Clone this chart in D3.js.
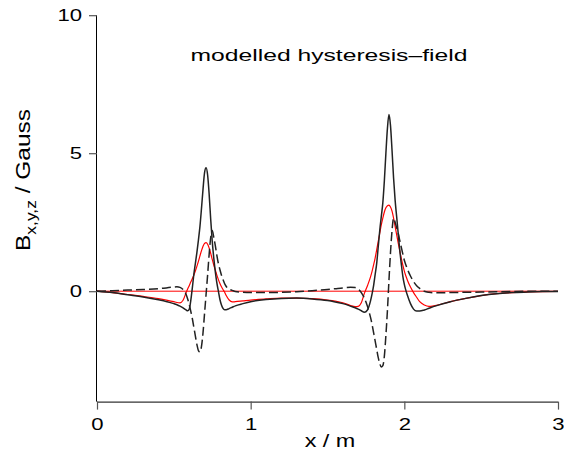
<!DOCTYPE html>
<html>
<head>
<meta charset="utf-8">
<script src="https://cdn.jsdelivr.net/npm/d3@7"></script>
<style>
  html, body { margin: 0; padding: 0; background: #fff; }
  svg { display: block; font-family: "Liberation Sans", Arial, Helvetica, sans-serif; }
</style>
</head>
<body>
<svg id="chart" width="564" height="453"></svg>
<script>
// Position along the track (m)
const xPos = [
  0, 0.1, 0.2, 0.3, 0.4, 0.45, 0.5,
  0.52, 0.54, 0.56, 0.58, 0.59, 0.60, 0.61, 0.62, 0.63, 0.64, 0.65, 0.66, 0.67, 0.68, 0.69,
  0.70, 0.71, 0.72, 0.73, 0.74, 0.75, 0.76, 0.77, 0.78, 0.79, 0.80, 0.81, 0.82, 0.83, 0.84,
  0.86, 0.88, 0.90, 0.95,
  1.0, 1.1, 1.2, 1.3, 1.4, 1.5, 1.55, 1.6, 1.65,
  1.68, 1.70, 1.72, 1.74, 1.76, 1.78, 1.79, 1.80, 1.81, 1.82, 1.83, 1.84, 1.85, 1.86, 1.87,
  1.88, 1.89, 1.90, 1.91, 1.92, 1.93, 1.94, 1.95, 1.96, 1.97, 1.98, 1.99, 2.00, 2.01, 2.02,
  2.04, 2.06, 2.08, 2.10, 2.13, 2.16, 2.2,
  2.3, 2.4, 2.5, 2.6, 2.7, 2.8, 2.9, 3.0
];

// Bx (Gauss) – black solid
const bX = [
  0, -0.05, -0.13, -0.21, -0.31, -0.37, -0.45,
  -0.49, -0.54, -0.6, -0.68, -0.71, -0.66, -0.35, 0.1, 0.6, 1.0, 1.4, 1.85, 2.35, 3.0, 3.7,
  4.3, 4.47, 4.2, 3.5, 2.6, 1.8, 1.2, 0.7, 0.3, 0.0, -0.3, -0.5, -0.62, -0.67, -0.67,
  -0.63, -0.58, -0.53, -0.45,
  -0.38, -0.3, -0.26, -0.25, -0.28, -0.34, -0.39, -0.45, -0.54,
  -0.6, -0.65, -0.71, -0.76, -0.68, -0.35, -0.1, 0.2, 0.6, 1.0, 1.6, 2.2, 2.7, 3.2, 4.0,
  5.0, 5.9, 6.4, 6.0, 5.1, 4.1, 3.3, 2.7, 2.1, 1.5, 1.0, 0.55, 0.25, 0.03, -0.15,
  -0.45, -0.65, -0.72, -0.72, -0.68, -0.62, -0.54,
  -0.38, -0.26, -0.16, -0.09, -0.05, -0.03, -0.015, -0.01
];

// By (Gauss) – red solid
const bY = [
  0, -0.05, -0.12, -0.19, -0.27, -0.32, -0.38,
  -0.41, -0.42, -0.33, -0.05, 0.08, 0.2, 0.33, 0.45, 0.58, 0.73, 0.9, 1.08, 1.28, 1.47, 1.63,
  1.73, 1.76, 1.7, 1.56, 1.37, 1.15, 0.95, 0.77, 0.58, 0.42, 0.28, 0.16, 0.06, -0.03, -0.15,
  -0.32, -0.39, -0.38, -0.35,
  -0.32, -0.28, -0.25, -0.25, -0.27, -0.32, -0.36, -0.42, -0.52,
  -0.56, -0.55, -0.42, -0.08, 0.2, 0.52, 0.72, 0.95, 1.2, 1.5, 1.8, 2.1, 2.4, 2.65, 2.87,
  3.02, 3.1, 3.12, 3.05, 2.9, 2.65, 2.35, 2.05, 1.75, 1.47, 1.2, 0.95, 0.73, 0.55, 0.4,
  0.15, -0.05, -0.22, -0.38, -0.5, -0.55, -0.52,
  -0.38, -0.26, -0.16, -0.09, -0.05, -0.03, -0.015, -0.01
];

// Bz (Gauss) – black dashed
const bZ = [
  0, 0.02, 0.04, 0.06, 0.09, 0.12, 0.15,
  0.16, 0.14, 0.06, -0.12, -0.28, -0.48, -0.72, -0.98, -1.3, -1.62, -1.93, -2.15, -2.2, -2.0, -1.5,
  -0.8, -0.1, 0.6, 1.35, 1.95, 2.2, 1.95, 1.65, 1.3, 1.0, 0.78, 0.58, 0.42, 0.28, 0.18,
  0.07, 0.03, -0.01, -0.04,
  -0.05, -0.05, -0.04, -0.02, 0.02, 0.06, 0.09, 0.12, 0.14,
  0.13, 0.08, -0.05, -0.25, -0.55, -0.95, -1.2, -1.5, -1.8, -2.1, -2.4, -2.62, -2.75, -2.7, -2.35,
  -1.6, -0.7, 0.4, 1.4, 2.2, 2.65, 2.5, 2.3, 2.1, 1.85, 1.6, 1.35, 1.12, 0.95, 0.8,
  0.55, 0.35, 0.2, 0.1, 0.0, -0.04, -0.06,
  -0.05, -0.04, -0.03, -0.02, -0.01, -0.005, 0, 0
];

const xTicks = [0, 1, 2, 3];
const yTicks = [0, 5, 10];
const xDomain = [0, 3];
const yDomain = [-4, 10];

const titleText = "modelled hysteresis\u2013field";
const xLabelText = "x / m";

const svg = d3.select("#chart");
const x = d3.scaleLinear().domain(xDomain).range([97, 558]);
const y = d3.scaleLinear().domain(yDomain).range([401.6, 15.2]);

// stretch helper: widen glyphs along the text direction
function widen(sel, f) {
  sel.each(function () {
    const L = this.getComputedTextLength();
    d3.select(this).attr("textLength", L * f).attr("lengthAdjust", "spacingAndGlyphs");
  });
}

// zero reference line
svg.append("line")
  .attr("x1", x(0)).attr("x2", x(3))
  .attr("y1", y(0)).attr("y2", y(0))
  .attr("stroke", "#ff0000").attr("stroke-width", 1);

const line = d3.line().x(d => x(d[0])).y(d => y(d[1])).curve(d3.curveMonotoneX);

svg.append("path")
  .datum(xPos.map((v, i) => [v, bY[i]]))
  .attr("d", line).attr("fill", "none")
  .attr("stroke", "#ff0000").attr("stroke-width", 1.2);

svg.append("path")
  .datum(xPos.map((v, i) => [v, bX[i]]))
  .attr("d", line).attr("fill", "none")
  .attr("stroke", "#222").attr("stroke-width", 1.5);

svg.append("path")
  .datum(xPos.map((v, i) => [v, bZ[i]]))
  .attr("d", line).attr("fill", "none")
  .attr("stroke", "#222").attr("stroke-width", 1.5)
  .attr("stroke-dasharray", "9,4");

// axes
const xAxis = svg.append("g")
  .attr("transform", `translate(0,${y(-4)})`)
  .call(d3.axisBottom(x).tickValues(xTicks).tickFormat(d3.format("d")).tickSize(8).tickPadding(8));
const yAxis = svg.append("g")
  .attr("transform", `translate(${x(0)},0)`)
  .call(d3.axisLeft(y).tickValues(yTicks).tickFormat(d3.format("d")).tickSize(8).tickPadding(7));

[xAxis, yAxis].forEach(g => {
  g.select(".domain").attr("stroke", "#000").attr("stroke-width", 1);
  g.selectAll(".tick line").attr("stroke", "#555").attr("stroke-width", 1.2);
  g.selectAll(".tick text").attr("font-size", 17).attr("fill", "#000")
    .attr("font-family", "Liberation Sans, Arial, sans-serif");
});
// plain axis lines without end caps
xAxis.select(".domain").attr("d", `M${x(0)},0.5H${x(3)}`);
yAxis.select(".domain").attr("d", `M-0.5,${y(10)}V${y(-4)}`);
widen(xAxis.selectAll(".tick text"), 1.3);
widen(yAxis.selectAll(".tick text"), 1.3);

// title
const title = svg.append("text")
  .attr("x", 329).attr("y", 61)
  .attr("text-anchor", "middle").attr("font-size", 17).attr("fill", "#000")
  .text(titleText);
widen(title, 1.45);

// x axis label
const xl = svg.append("text")
  .attr("x", 330).attr("y", 447)
  .attr("text-anchor", "middle").attr("font-size", 18).attr("fill", "#000")
  .text(xLabelText);
widen(xl, 1.3);

// y axis label with subscript
const yl = svg.append("text")
  .attr("transform", "translate(30,180) rotate(-90)")
  .attr("text-anchor", "middle").attr("font-size", 21).attr("fill", "#000");
yl.append("tspan").text("B");
yl.append("tspan").attr("font-size", 15).attr("dy", 6).text("x,y,z");
yl.append("tspan").attr("dy", -6).text(" / Gauss");
yl.attr("textLength", 142).attr("lengthAdjust", "spacingAndGlyphs");
</script>
</body>
</html>
